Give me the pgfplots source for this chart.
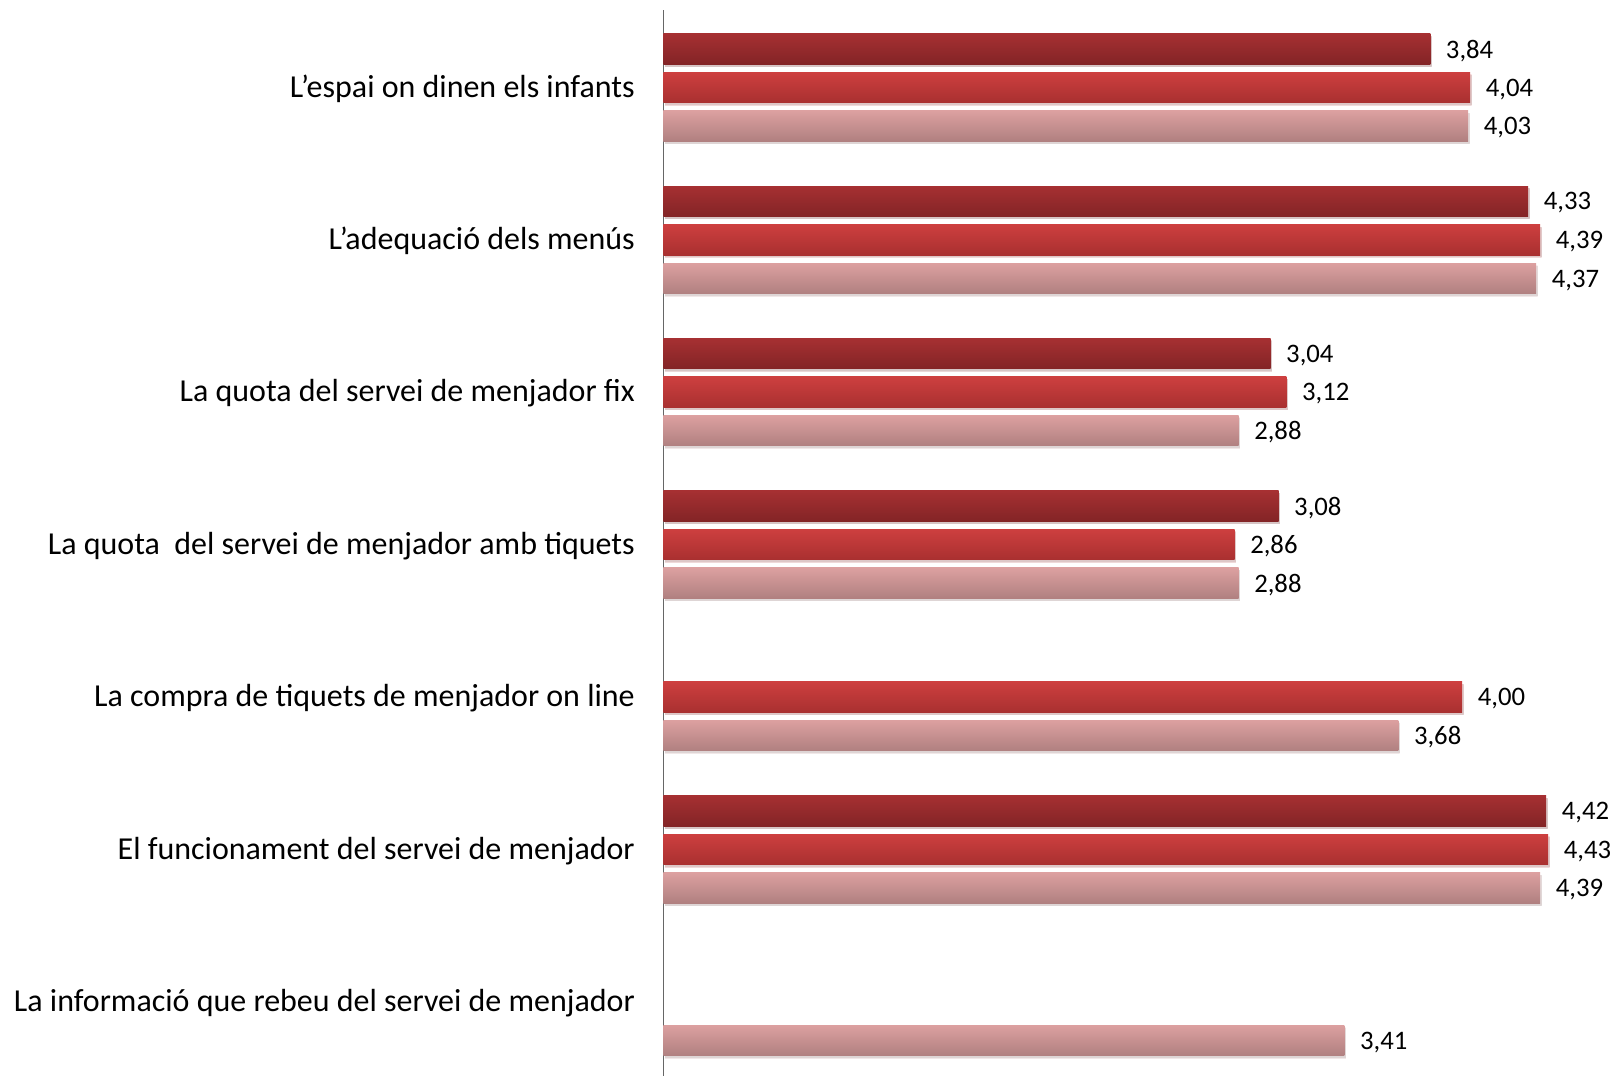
\documentclass[border=0pt]{standalone}
\usepackage{pgfplots}
\pgfplotsset{compat=1.18}
\usetikzlibrary{shadows}
\usepackage{fontspec}
\setmainfont{Carlito}

\definecolor{darkA}{HTML}{A63032}
\definecolor{darkB}{HTML}{832426}
\definecolor{midA}{HTML}{CD3F3F}
\definecolor{midB}{HTML}{A93030}
\definecolor{lightA}{HTML}{DCA0A0}
\definecolor{lightB}{HTML}{B08080}

% one plot per bar so that each bar gets its own gradient
\pgfplotsset{
  barbase/.style={draw=none, forget plot,
    drop shadow={opacity=0.18, shadow xshift=0.4pt, shadow yshift=-0.7pt}},
  sA/.style={barbase, top color=darkA, bottom color=darkB, bar shift=-0.253},
  sB/.style={barbase, top color=midA, bottom color=midB, bar shift=0},
  sC/.style={barbase, top color=lightA, bottom color=lightB, bar shift=0.253},
}

\begin{document}
\begin{tikzpicture}
\begin{axis}[
    name=ax,
    scale only axis,
    width=9.486cm, height=10.662cm,
    xbar, bar width=0.2,
    xmin=0, xmax=4.75,
    ymin=-0.506, ymax=6.49,
    y dir=reverse,
    axis x line=none,
    axis y line=left,
    y axis line style={-, draw=gray!80!black, line width=0.5pt},
    ytick={0,...,6},
    yticklabels={L’espai on dinen els infants, L’adequació dels menús, La quota del servei de menjador fix, La quota\ \ del servei de menjador amb tiquets, La compra de tiquets de menjador on line, El funcionament del servei de menjador, La informació que rebeu del servei de menjador},
    major tick length=0pt,
    y tick label style={font=\fontsize{9.1}{11}\selectfont, anchor=east, inner sep=0pt, xshift=-0.28cm, yshift=-0.4pt},
    nodes near coords,
    nodes near coords align=horizontal,
    every node near coord/.append style={font=\fontsize{7.6}{9}\selectfont, black, inner sep=0pt, xshift=0.15cm, yshift=-0.5pt},
    /pgf/number format/.cd, fixed, fixed zerofill, precision=2, use comma, assume math mode=true,
    /pgfplots/.cd,
    clip=false,
]
% L'espai on dinen els infants
\addplot[sA] coordinates {(3.84,0)};
\addplot[sB] coordinates {(4.04,0)};
\addplot[sC] coordinates {(4.03,0)};
% L'adequacio dels menus
\addplot[sA] coordinates {(4.33,1)};
\addplot[sB] coordinates {(4.39,1)};
\addplot[sC] coordinates {(4.37,1)};
% quota fix
\addplot[sA] coordinates {(3.04,2)};
\addplot[sB] coordinates {(3.12,2)};
\addplot[sC] coordinates {(2.88,2)};
% quota amb tiquets
\addplot[sA] coordinates {(3.08,3)};
\addplot[sB] coordinates {(2.86,3)};
\addplot[sC] coordinates {(2.88,3)};
% compra on line
\addplot[sB] coordinates {(4.00,4)};
\addplot[sC] coordinates {(3.68,4)};
% funcionament
\addplot[sA] coordinates {(4.42,5)};
\addplot[sB] coordinates {(4.43,5)};
\addplot[sC] coordinates {(4.39,5)};
% informacio
\addplot[sC] coordinates {(3.41,6)};
\end{axis}
\pgfresetboundingbox
\path[use as bounding box] ([xshift=-6.635cm,yshift=-0.005cm]ax.south west) rectangle ([xshift=0.01cm,yshift=0.103cm]ax.north east);
\end{tikzpicture}
\end{document}
